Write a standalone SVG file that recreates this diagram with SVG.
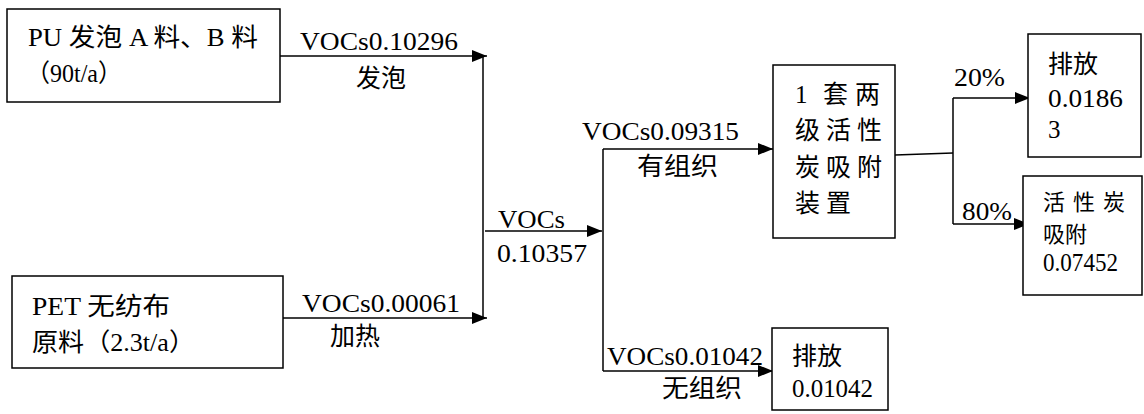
<svg xmlns="http://www.w3.org/2000/svg" width="1144" height="414" viewBox="0 0 1144 414">
<style>
text{font-family:"Liberation Serif","Noto Sans CJK SC",serif;font-size:25px;fill:#000}
.sm{font-size:22px}
.box{fill:#fff;stroke:#000;stroke-width:1.5}
.ln{fill:none;stroke:#000;stroke-width:1.5}
</style>
<defs>
<marker id="ah" markerUnits="userSpaceOnUse" markerWidth="15" markerHeight="12" refX="15" refY="6" orient="auto">
<path d="M0,0 L15,6 L0,12 z" fill="#000"/>
</marker>
</defs>
<g id="connectors">
<line class="ln" x1="280" y1="56" x2="487" y2="56" marker-end="url(#ah)"/>
<line class="ln" x1="283" y1="318" x2="487" y2="318" marker-end="url(#ah)"/>
<line class="ln" x1="483" y1="56" x2="483" y2="318"/>
<line class="ln" x1="485" y1="231" x2="602" y2="231" marker-end="url(#ah)"/>
<line class="ln" x1="603" y1="149" x2="603" y2="371"/>
<line class="ln" x1="603" y1="149" x2="773" y2="149" marker-end="url(#ah)"/>
<line class="ln" x1="603" y1="371" x2="773" y2="371" marker-end="url(#ah)"/>
<line class="ln" x1="895" y1="155" x2="953" y2="153"/>
<line class="ln" x1="953" y1="98" x2="953" y2="224"/>
<line class="ln" x1="953" y1="98" x2="1030" y2="98" marker-end="url(#ah)"/>
<line class="ln" x1="953" y1="224" x2="1029" y2="224" marker-end="url(#ah)"/>
<text x="300" y="50" textLength="158" lengthAdjust="spacingAndGlyphs">VOCs0.10296</text>
<text x="356" y="87">发泡</text>
<text x="302" y="312" textLength="158" lengthAdjust="spacingAndGlyphs">VOCs0.00061</text>
<text x="330" y="345">加热</text>
<text x="498" y="228" textLength="67" lengthAdjust="spacingAndGlyphs">VOCs</text>
<text x="497" y="262" textLength="90" lengthAdjust="spacingAndGlyphs">0.10357</text>
<text x="582" y="140" textLength="157" lengthAdjust="spacingAndGlyphs">VOCs0.09315</text>
<text x="637" y="175" textLength="81" lengthAdjust="spacingAndGlyphs">有组织</text>
<text x="607" y="365" textLength="156" lengthAdjust="spacingAndGlyphs">VOCs0.01042</text>
<text x="662" y="397" textLength="80" lengthAdjust="spacingAndGlyphs">无组织</text>
<text x="954" y="86" textLength="51" lengthAdjust="spacingAndGlyphs">20%</text>
<text x="962" y="220" textLength="50" lengthAdjust="spacingAndGlyphs">80%</text>
</g>
<g id="pu">
<rect class="box" x="7" y="9" width="273" height="93"/>
<text x="28" y="46" textLength="230" lengthAdjust="spacingAndGlyphs">PU 发泡 A 料、B 料</text>
<text x="26" y="82" textLength="96" lengthAdjust="spacingAndGlyphs">（90t/a）</text>
</g>
<g id="pet">
<rect class="box" x="12" y="276" width="271" height="92"/>
<text x="32" y="315" textLength="138" lengthAdjust="spacingAndGlyphs">PET 无纺布</text>
<text x="32" y="351" textLength="163" lengthAdjust="spacingAndGlyphs">原料（2.3t/a）</text>
</g>
<g id="adsorber">
<rect class="box" x="773" y="65" width="122" height="173"/>
<text x="795 810 823 855" y="103">1 套两</text>
<text x="795 826 857" y="139">级活性</text>
<text x="795 826 857" y="176">炭吸附</text>
<text x="795 826" y="212">装置</text>
</g>
<g id="emit1">
<rect class="box" x="1028" y="34" width="113" height="123"/>
<text x="1048" y="73">排放</text>
<text x="1048" y="107" textLength="75" lengthAdjust="spacingAndGlyphs">0.0186</text>
<text x="1048" y="138">3</text>
</g>
<g id="carbon">
<rect class="box" x="1023" y="176" width="119" height="119"/>
<text class="sm" x="1043 1073 1103" y="210">活性炭</text>
<text class="sm" x="1043" y="242">吸附</text>
<text x="1043" y="271" textLength="75" lengthAdjust="spacingAndGlyphs">0.07452</text>
</g>
<g id="emit2">
<rect class="box" x="772" y="328" width="116" height="82"/>
<text x="792" y="365">排放</text>
<text x="792" y="397" textLength="81" lengthAdjust="spacingAndGlyphs">0.01042</text>
</g>
</svg>
